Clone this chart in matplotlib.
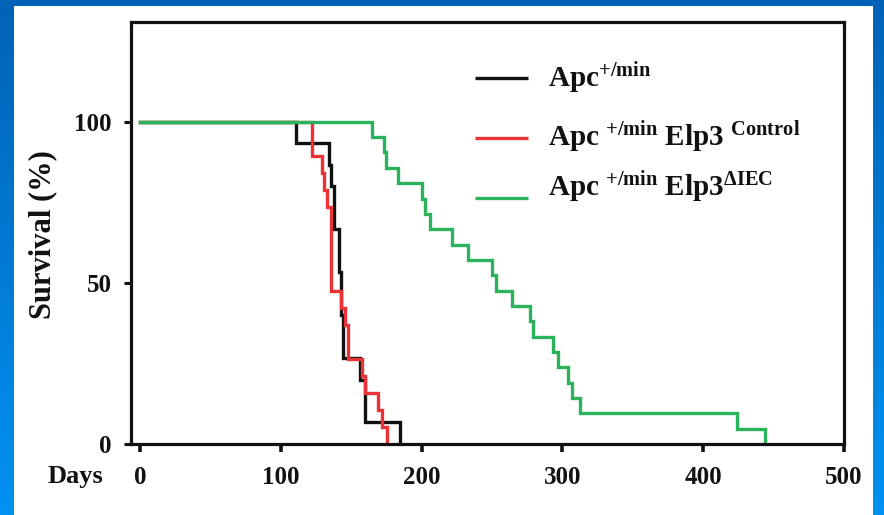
import numpy as np
import matplotlib
matplotlib.use("Agg")
import matplotlib.pyplot as plt
from matplotlib.patches import Rectangle
from matplotlib.colors import LinearSegmentedColormap

plt.rcParams["font.family"] = ["Liberation Serif", "DejaVu Serif"]
plt.rcParams["font.weight"] = "bold"
plt.rcParams["mathtext.fontset"] = "custom"
plt.rcParams["mathtext.rm"] = "Liberation Serif:bold"
plt.rcParams["mathtext.bf"] = "Liberation Serif:bold"
plt.rcParams["mathtext.it"] = "Liberation Serif:bold"

# Kaplan-Meier steps: day of each drop and survival (%) after it
days_apc = [0, 111, 134.5, 136, 138, 141.6, 142.8, 144, 156, 160, 185]
surv_apc = [100, 93.3, 86.7, 80.0, 66.7, 53.3, 40.0, 26.7, 20.0, 6.7, 0]

days_ctrl = [0, 122, 129, 131, 133, 136, 143, 145.6, 148, 157.5, 160, 169, 171.7, 175.6]
surv_ctrl = [100, 89.5, 84.2, 78.9, 73.7, 47.4, 42.1, 36.8, 26.3, 21.1, 15.8, 10.5, 5.3, 0]

days_iec = [0, 164.6, 173, 175, 183.4, 200, 202.4, 206, 221.4, 233.2, 250, 253,
            264, 277, 279.4, 293.5, 297, 304, 306.6, 312.5, 423.8, 444]
surv_iec = [100, 95.2, 90.5, 85.7, 81.0, 76.2, 71.4, 66.7, 61.9, 57.1, 52.4, 47.6,
            42.9, 38.1, 33.3, 28.6, 23.8, 19.0, 14.3, 9.5, 4.8, 0]

x_ticks = [0, 100, 200, 300, 400, 500]
y_ticks = [0, 50, 100]

labels = [
    r"Apc$^{\mathbf{+/min}}$",
    r"Apc $^{\mathbf{+/min}}$ Elp3 $^{\mathbf{Control}}$",
    r"Apc $^{\mathbf{+/min}}$ Elp3$^{\mathbf{\Delta IEC}}$",
]
colors = ["#111111", "#EC3237", "#2BB35C"]

W, H = 884, 515
fig = plt.figure(figsize=(W / 100, H / 100), dpi=100)

# blue slide background with white panel
bg = fig.add_axes([0, 0, 1, 1], zorder=-10)
cmap = LinearSegmentedColormap.from_list("slide", ["#0062B6", "#0092F2"])
grad = np.linspace(0, 1, 256).reshape(-1, 1)
bg.imshow(grad, cmap=cmap, aspect="auto", extent=[0, 1, 0, 1], origin="upper")
bg.add_patch(Rectangle((14 / W, 0), (873 - 14) / W, (H - 6) / H,
                       facecolor="white", edgecolor="none"))
bg.set_xlim(0, 1)
bg.set_ylim(0, 1)
bg.axis("off")

left, right, top, bottom = 131, 844, 22, 444
ax = fig.add_axes([left / W, 1 - bottom / H, (right - left) / W, (bottom - top) / H])

series = [(days_apc, surv_apc), (days_ctrl, surv_ctrl), (days_iec, surv_iec)]
for (d, s), c in zip(series, colors):
    ax.step(d, s, where="post", color=c, lw=2.4, solid_joinstyle="miter")

ax.set_xlim(-6.4, 500)
ax.set_ylim(0, 131)
ax.set_xticks(x_ticks)
ax.set_yticks(y_ticks)
ax.set_xticklabels([str(v) for v in x_ticks])
ax.set_yticklabels([str(v) for v in y_ticks])
for sp in ax.spines.values():
    sp.set_linewidth(2.3)
    sp.set_color("#111111")
ax.tick_params(axis="x", direction="out", length=6, width=2.6, pad=10,
               labelsize=18, colors="#111111")
ax.tick_params(axis="y", direction="out", length=5, width=2.2, pad=9,
               labelsize=18, colors="#111111")

# legend drawn by hand
line_y = [0.867, 0.725, 0.583]
text_y = [0.8436, 0.7038, 0.5853]
for lab, c, ly, ty in zip(labels, colors, line_y, text_y):
    ax.plot([0.4825, 0.557], [ly, ly], transform=ax.transAxes, color=c, lw=2.4,
            solid_capstyle="butt")
    ax.text(0.585, ty, lab, transform=ax.transAxes, fontsize=21, va="baseline",
            ha="left", color="#111111")

fig.text(103 / W, 1 - 476 / H, "Days", fontsize=19, ha="right", va="center",
         color="#111111")
fig.text(43 / W, 1 - 235 / H, "Survival (%)", fontsize=22, rotation=90,
         ha="center", va="center", color="#111111")

fig.savefig("out.png", dpi=100)
